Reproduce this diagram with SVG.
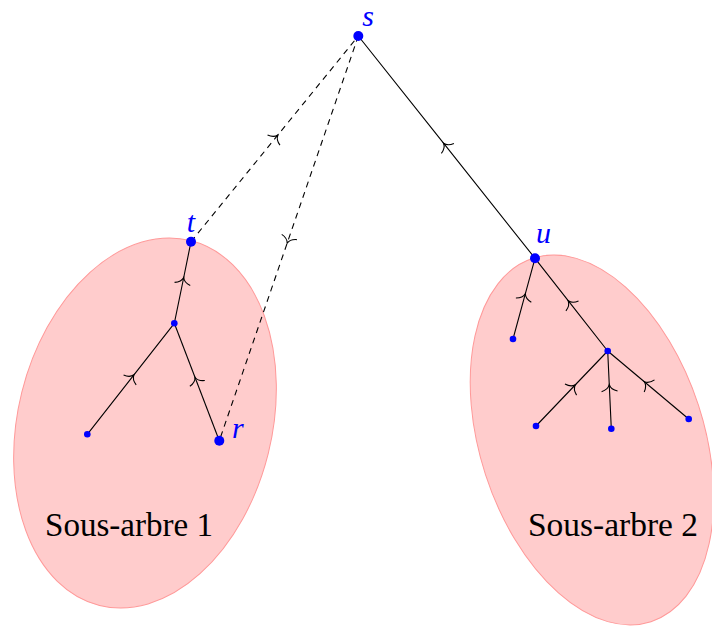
<svg xmlns="http://www.w3.org/2000/svg" width="712" height="626" viewBox="0 0 712 626">
<style>
.region{fill:#ffcccc;stroke:#ff9999;stroke-width:1}
.edge{fill:none;stroke:#000;stroke-width:1.1;marker-mid:url(#mid)}
.dash{stroke-dasharray:6 5}
.big{fill:#0000ff}
.lbl{font-family:"Liberation Serif","DejaVu Serif",serif;font-style:italic;font-size:30px;fill:#0000ff}
.sub{font-family:"Liberation Serif","DejaVu Serif",serif;font-size:33px;fill:#000}
</style>
<defs>
<marker id="mid" markerUnits="userSpaceOnUse" viewBox="-9 -10 14 20" markerWidth="14" markerHeight="20" refX="-4.5" refY="0" orient="auto">
<path d="M -6,-8 C -4.8,-3.4 -1.8,-0.7 0.6,0 C -1.8,0.7 -4.8,3.4 -6,8" fill="none" stroke="#000" stroke-width="1.1"/>
</marker>
</defs>
<g id="regions">
<ellipse class="region" cx="145" cy="423" rx="127" ry="188" transform="rotate(14 145 423)"/>
<ellipse class="region" cx="592" cy="440" rx="112" ry="191" transform="rotate(-18 592 440)"/>
<text class="sub" x="45" y="536" textLength="168" lengthAdjust="spacingAndGlyphs">Sous-arbre 1</text>
<text class="sub" x="528" y="536" textLength="170" lengthAdjust="spacingAndGlyphs">Sous-arbre 2</text>
</g>
<g id="connectors">
<path class="edge dash" d="M191,241.7 L274.7,138.9 L358.3,36"/>
<path class="edge dash" d="M358.3,36 L288.8,238.4 L219.3,440.7"/>
<path class="edge" d="M535,258.3 L446.7,147.2 L358.3,36"/>
<path class="edge" d="M174.3,323.3 L182.7,282.5 L191,241.7"/>
<path class="edge" d="M87.3,434.3 L130.8,378.8 L174.3,323.3"/>
<path class="edge" d="M219.3,440.7 L196.8,382 L174.3,323.3"/>
<path class="edge" d="M513,339 L524,298.7 L535,258.3"/>
<path class="edge" d="M607.7,351 L571.3,304.7 L535,258.3"/>
<path class="edge" d="M536,426 L571.8,388.5 L607.7,351"/>
<path class="edge" d="M611.3,428.7 L609.5,389.8 L607.7,351"/>
<path class="edge" d="M688.7,419 L648.2,385 L607.7,351"/>
</g>
<g id="node-s"><circle class="big" cx="358.3" cy="36" r="5"/><text class="lbl" x="368" y="25.5" text-anchor="middle" font-size="28">s</text></g>
<g id="node-t"><circle class="big" cx="191" cy="241.7" r="5"/><text class="lbl" x="191" y="232" text-anchor="middle">t</text></g>
<g id="node-r"><circle class="big" cx="219.3" cy="440.7" r="5"/><text class="lbl" x="232" y="438">r</text></g>
<g id="node-u"><circle class="big" cx="535" cy="258.3" r="5"/><text class="lbl" x="536" y="243">u</text></g>
<g id="node-a"><circle class="big" cx="174.3" cy="323.3" r="3.3"/></g>
<g id="node-l1"><circle class="big" cx="87.3" cy="434.3" r="3.3"/></g>
<g id="node-u1"><circle class="big" cx="513" cy="339" r="3.3"/></g>
<g id="node-b"><circle class="big" cx="607.7" cy="351" r="3.3"/></g>
<g id="node-b1"><circle class="big" cx="536" cy="426" r="3.3"/></g>
<g id="node-b2"><circle class="big" cx="611.3" cy="428.7" r="3.3"/></g>
<g id="node-b3"><circle class="big" cx="688.7" cy="419" r="3.3"/></g>
</svg>
